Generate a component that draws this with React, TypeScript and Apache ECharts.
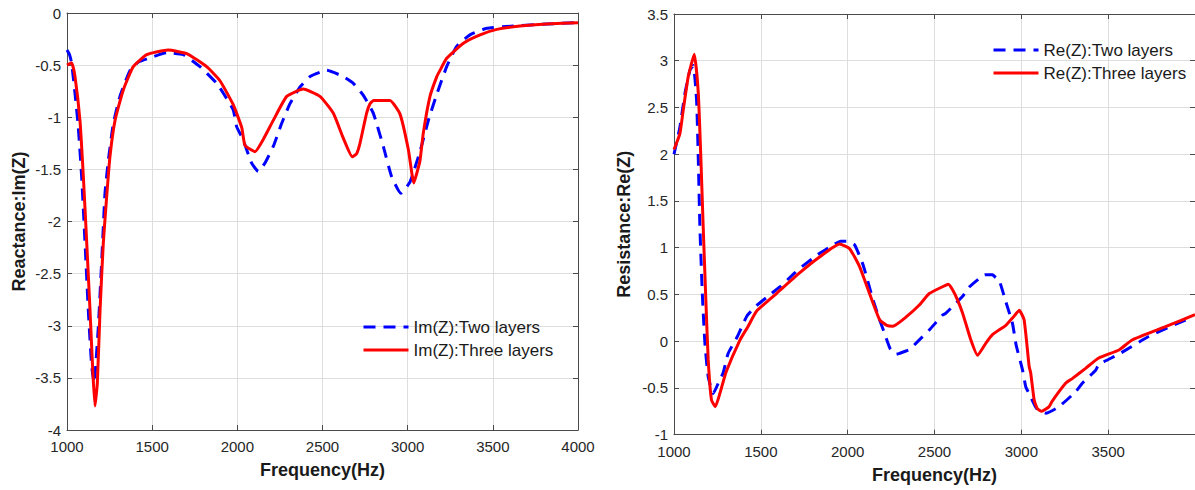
import React, { useEffect, useRef } from "react";
import * as echarts from "echarts";

// ---------- Left chart: Reactance Im(Z) ----------
const imTwoFreq = [1000, 1015, 1027, 1047, 1066, 1086, 1106, 1125, 1145, 1160, 1170, 1184, 1204, 1223, 1243, 1272, 1311, 1370, 1420, 1487, 1585, 1683, 1781, 1879, 1918, 1976, 1996, 2035, 2084, 2123, 2162, 2211, 2260, 2309, 2368, 2427, 2525, 2622, 2681, 2740, 2798, 2857, 2906, 2960, 3014, 3072, 3125, 3175, 3229, 3288, 3366, 3464, 3620, 3816, 4000];
const imTwoVals = [-0.355, -0.4, -0.48, -0.77, -1.09, -1.57, -2.21, -2.85, -3.39, -3.55, -3.35, -3.01, -2.37, -1.73, -1.41, -1.06, -0.8, -0.55, -0.47, -0.43, -0.38, -0.4, -0.515, -0.675, -0.77, -0.93, -1.09, -1.22, -1.44, -1.52, -1.44, -1.28, -1.06, -0.87, -0.71, -0.61, -0.55, -0.61, -0.675, -0.79, -0.96, -1.28, -1.57, -1.73, -1.62, -1.33, -1.01, -0.76, -0.515, -0.32, -0.21, -0.147, -0.125, -0.105, -0.093];

const imThreeFreq = [1000, 1027, 1047, 1076, 1096, 1116, 1135, 1151, 1164, 1178, 1194, 1213, 1233, 1252, 1282, 1330, 1389, 1468, 1594, 1703, 1820, 1898, 1976, 2026, 2045, 2104, 2153, 2211, 2290, 2387, 2485, 2563, 2622, 2675, 2700, 2720, 2759, 2779, 2800, 2896, 2955, 3004, 3036, 3053, 3072, 3092, 3131, 3171, 3190, 3229, 3327, 3425, 3523, 3659, 3816, 4000];
const imThreeVals = [-0.5, -0.477, -0.61, -1.03, -1.57, -2.21, -2.85, -3.42, -3.77, -3.55, -2.85, -2.21, -1.76, -1.38, -1.03, -0.74, -0.515, -0.4, -0.355, -0.39, -0.515, -0.65, -0.88, -1.1, -1.27, -1.33, -1.21, -1.03, -0.8, -0.73, -0.8, -0.96, -1.2, -1.38, -1.35, -1.25, -0.96, -0.87, -0.84, -0.84, -0.97, -1.31, -1.63, -1.54, -1.42, -1.15, -0.8, -0.61, -0.55, -0.435, -0.29, -0.21, -0.157, -0.125, -0.105, -0.093];

// ---------- Right chart: Resistance Re(Z) ----------
const reTwoFreq = [1000, 1034, 1063, 1092, 1111, 1130, 1140, 1149, 1163, 1178, 1197, 1226, 1264, 1283, 1312, 1365, 1420, 1475, 1561, 1609, 1695, 1724, 1839, 1916, 1960, 2000, 2040, 2088, 2145, 2180, 2212, 2245, 2280, 2299, 2356, 2394, 2470, 2547, 2566, 2662, 2700, 2757, 2790, 2834, 2853, 2872, 2911, 2949, 2970, 3007, 3026, 3045, 3088, 3141, 3217, 3313, 3351, 3428, 3446, 3560, 3733, 3924, 3950];
const reTwoVals = [2.0, 2.29, 2.65, 2.9, 2.95, 2.58, 1.94, 1.23, 0.51, -0.02, -0.38, -0.56, -0.41, -0.34, -0.13, 0.05, 0.27, 0.38, 0.51, 0.58, 0.73, 0.78, 0.94, 1.03, 1.07, 1.07, 1.03, 0.82, 0.45, 0.25, 0.085, -0.08, -0.14, -0.13, -0.09, -0.02, 0.12, 0.28, 0.3, 0.48, 0.58, 0.67, 0.71, 0.71, 0.68, 0.655, 0.42, 0.19, -0.04, -0.31, -0.49, -0.56, -0.72, -0.77, -0.7, -0.54, -0.45, -0.31, -0.25, -0.14, 0.05, 0.21, 0.23];

const reThreeFreq = [1000, 1034, 1053, 1082, 1117, 1140, 1155, 1168, 1182, 1197, 1216, 1238, 1264, 1300, 1379, 1427, 1475, 1590, 1723, 1838, 1953, 2011, 2068, 2126, 2184, 2225, 2260, 2337, 2414, 2470, 2566, 2580, 2604, 2633, 2662, 2710, 2748, 2796, 2834, 2911, 2950, 2988, 3016, 3045, 3054, 3074, 3092, 3117, 3160, 3178, 3255, 3293, 3370, 3446, 3562, 3638, 3830, 4000];
const reThreeVals = [2.05, 2.22, 2.47, 2.83, 3.07, 2.65, 1.94, 1.23, 0.51, -0.2, -0.63, -0.7, -0.56, -0.33, 0.01, 0.16, 0.32, 0.51, 0.73, 0.9, 1.04, 0.99, 0.8, 0.51, 0.23, 0.17, 0.16, 0.26, 0.39, 0.51, 0.6, 0.61, 0.55, 0.44, 0.3, 0.01, -0.15, -0.02, 0.07, 0.17, 0.25, 0.33, 0.23, -0.27, -0.34, -0.63, -0.72, -0.75, -0.7, -0.64, -0.45, -0.4, -0.29, -0.18, -0.094, 0.013, 0.155, 0.285];

const LEFT_NAMES = ["Im(Z):Two layers", "Im(Z):Three layers"];
const RIGHT_NAMES = ["Re(Z):Two layers", "Re(Z):Three layers"];

const FONT = "'Liberation Sans', Arial, Helvetica, sans-serif";
const AXIS_COLOR = "#4a4a4a";
const GRID_COLOR = "#dedede";
const LABEL_COLOR = "#262626";
const BLUE = "#0000ff";
const RED = "#ff0000";

const zip = (f: number[], v: number[]) => f.map((x, i) => [x, v[i]]);
const plain = (v: number) => String(v);

function mainX(gridIndex: number, max: number, hideMax: boolean) {
  return {
    type: "value",
    gridIndex,
    min: 1000,
    max,
    interval: 500,
    position: "bottom",
    name: "Frequency(Hz)",
    nameLocation: "middle",
    nameGap: 31,
    nameTextStyle: { fontSize: 18, fontWeight: "bold", color: "#1a1a1a", fontFamily: FONT },
    axisLine: { show: true, onZero: false, lineStyle: { color: AXIS_COLOR, width: 1 } },
    axisTick: { show: true, inside: true, length: 5, lineStyle: { color: AXIS_COLOR } },
    axisLabel: { fontSize: 15, color: LABEL_COLOR, margin: 9, fontFamily: FONT, showMaxLabel: !hideMax, formatter: plain },
    splitLine: { show: true, lineStyle: { color: GRID_COLOR, width: 1 } },
  };
}
function topX(gridIndex: number, max: number) {
  return {
    type: "value",
    gridIndex,
    min: 1000,
    max,
    interval: 500,
    position: "top",
    axisLine: { show: true, onZero: false, lineStyle: { color: AXIS_COLOR, width: 1 } },
    axisTick: { show: true, inside: true, length: 5, lineStyle: { color: AXIS_COLOR } },
    axisLabel: { show: false },
    splitLine: { show: false },
  };
}
function mainY(gridIndex: number, min: number, max: number, name: string, gap: number) {
  return {
    type: "value",
    gridIndex,
    min,
    max,
    interval: 0.5,
    position: "left",
    name,
    nameLocation: "middle",
    nameGap: gap,
    nameTextStyle: { fontSize: 18, fontWeight: "bold", color: "#1a1a1a", fontFamily: FONT },
    axisLine: { show: true, onZero: false, lineStyle: { color: AXIS_COLOR, width: 1 } },
    axisTick: { show: true, inside: true, length: 5, lineStyle: { color: AXIS_COLOR } },
    axisLabel: { fontSize: 15, color: LABEL_COLOR, margin: 6, fontFamily: FONT, formatter: plain },
    splitLine: { show: true, lineStyle: { color: GRID_COLOR, width: 1 } },
  };
}
function rightY(gridIndex: number, min: number, max: number) {
  return {
    type: "value",
    gridIndex,
    min,
    max,
    interval: 0.5,
    position: "right",
    axisLine: { show: true, onZero: false, lineStyle: { color: AXIS_COLOR, width: 1 } },
    axisTick: { show: true, inside: true, length: 5, lineStyle: { color: AXIS_COLOR } },
    axisLabel: { show: false },
    splitLine: { show: false },
  };
}

function lineSeries(name: string, data: number[][], color: string, dashed: boolean, xi: number, yi: number) {
  return {
    type: "line",
    name,
    data,
    xAxisIndex: xi,
    yAxisIndex: yi,
    symbol: "none",
    showSymbol: false,
    smooth: 0.15,
    clip: true,
    lineStyle: { color, width: 3, type: dashed ? [12, 8] : "solid" },
    itemStyle: { color },
    emphasis: { disabled: true },
  };
}

function legend(left: number, top: number, names: string[]) {
  return {
    orient: "vertical",
    left,
    top,
    padding: 0,
    itemWidth: 45,
    itemHeight: 14,
    itemGap: 3,
    data: names,
    textStyle: { fontSize: 17, color: "#1a1a1a", fontFamily: FONT, lineHeight: 20 },
    lineStyle: { width: 3 },
    itemStyle: { opacity: 0, borderWidth: 0 },
    selectedMode: false,
  };
}

export default function App() {
  const ref = useRef<HTMLDivElement>(null);
  useEffect(() => {
    if (!ref.current) return;
    const chart = echarts.init(ref.current, null, { renderer: "svg" });
    const option = {
      animation: false,
      backgroundColor: "#ffffff",
      textStyle: { fontFamily: FONT },
      grid: [
        { left: 67, top: 13, width: 511, height: 417 },
        { left: 674, top: 14, width: 522.4, height: 420.7 },
      ],
      xAxis: [mainX(0, 4000, false), topX(0, 4000), mainX(1, 4000, true), topX(1, 4000)],
      yAxis: [
        mainY(0, -4, 0, "Reactance:Im(Z)", 39),
        rightY(0, -4, 0),
        mainY(1, -1, 3.5, "Resistance:Re(Z)", 41),
        rightY(1, -1, 3.5),
      ],
      legend: [legend(362, 317, LEFT_NAMES), legend(992, 40, RIGHT_NAMES)],
      series: [
        lineSeries(LEFT_NAMES[0], zip(imTwoFreq, imTwoVals), BLUE, true, 0, 0),
        lineSeries(LEFT_NAMES[1], zip(imThreeFreq, imThreeVals), RED, false, 0, 0),
        lineSeries(RIGHT_NAMES[0], zip(reTwoFreq, reTwoVals), BLUE, true, 2, 2),
        lineSeries(RIGHT_NAMES[1], zip(reThreeFreq, reThreeVals), RED, false, 2, 2),
      ],
    };
    chart.setOption(option as any);
    return () => chart.dispose();
  }, []);
  return (
    <div
      ref={ref}
      style={{ position: "fixed", left: 0, top: 0, width: "1195px", height: "490px", background: "#fff" }}
    />
  );
}
